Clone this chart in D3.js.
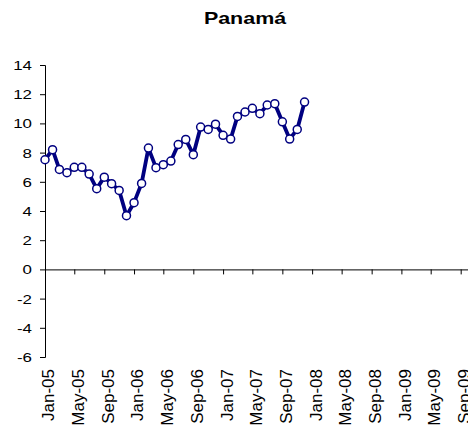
<!DOCTYPE html>
<html>
<head>
<meta charset="utf-8">
<script src="https://cdn.jsdelivr.net/npm/d3@7"></script>
<style>
  html, body { margin: 0; padding: 0; background: #fff; }
  svg { display: block; font-family: "Liberation Sans", Arial, sans-serif; }
</style>
</head>
<body>
<svg id="chart" width="468" height="430"></svg>
<script>
// ---- data ----
const title = "Panamá";
const startMonth = "2005-01"; // first observation (monthly series)
const values = [7.51, 8.20, 6.85, 6.62, 6.99, 6.99, 6.53, 5.53, 6.32, 5.87, 5.41, 3.68,
                4.57, 5.89, 8.31, 6.97, 7.17, 7.42, 8.55, 8.90, 7.86, 9.75, 9.59, 9.95,
                9.18, 8.93, 10.48, 10.78, 11.03, 10.66, 11.26, 11.35, 10.11, 8.93, 9.59, 11.46];
const yTicks = [-6, -4, -2, 0, 2, 4, 6, 8, 10, 12, 14];
const xDomain = ["2005-01-01", "2009-10-01"];

// ---- build ----
const parse = d3.timeParse("%Y-%m-%d");
const start = parse(startMonth + "-01");
const data = values.map((v, i) => ({ date: d3.timeMonth.offset(start, i), value: v }));

const svg = d3.select("#chart");
const SX = 1.3; // horizontal stretch of title / y labels in the original picture

const x = d3.scaleTime().domain(xDomain.map(parse)).range([45, 468]);
const y = d3.scaleLinear().domain([-6, 14]).range([357, 65]);

// title
svg.append("g")
  .attr("transform", `translate(245,24) scale(${SX},1)`)
  .append("text")
  .attr("text-anchor", "middle")
  .attr("font-weight", "bold")
  .attr("font-size", 16.5)
  .attr("fill", "#000")
  .text(title);

// y axis
const yAxis = svg.append("g")
  .attr("transform", `translate(45,0)`)
  .call(d3.axisLeft(y).tickValues(yTicks).tickSize(5).tickSizeOuter(5).tickFormat(d => String(d)));
yAxis.selectAll("text")
  .attr("x", -10)
  .attr("dy", "0.35em")
  .attr("font-size", 13)
  .attr("font-family", "Liberation Sans, Arial, sans-serif")
  .attr("fill", "#000")
  .attr("transform", `scale(${SX},1)`);
yAxis.selectAll("path, line").attr("stroke", "#000");

// x axis at y = 0
const fmt = d3.timeFormat("%b-%y");
const xAxis = svg.append("g")
  .attr("transform", `translate(0,${y(0)})`)
  .call(d3.axisBottom(x).ticks(d3.timeMonth.every(4)).tickSize(5).tickSizeOuter(0).tickFormat(fmt));
xAxis.selectAll("text")
  .attr("x", 0).attr("y", 0)
  .attr("dy", "0.35em")
  .attr("text-anchor", "end")
  .attr("font-size", 17)
  .attr("font-family", "Liberation Sans, Arial, sans-serif")
  .attr("fill", "#000")
  .attr("transform", `translate(3,${369 - y(0)}) rotate(-90)`);
xAxis.selectAll("path, line").attr("stroke", "#000");

// line
const line = d3.line().x(d => x(d.date)).y(d => y(d.value));
svg.append("path")
  .datum(data)
  .attr("fill", "none")
  .attr("stroke", "#000080")
  .attr("stroke-width", 3.8)
  .attr("stroke-linejoin", "round")
  .attr("d", line);

svg.append("g").selectAll("circle")
  .data(data)
  .join("circle")
  .attr("cx", d => x(d.date))
  .attr("cy", d => y(d.value))
  .attr("r", 4)
  .attr("fill", "#fff")
  .attr("stroke", "#000080")
  .attr("stroke-width", 1.5);
</script>
</body>
</html>
